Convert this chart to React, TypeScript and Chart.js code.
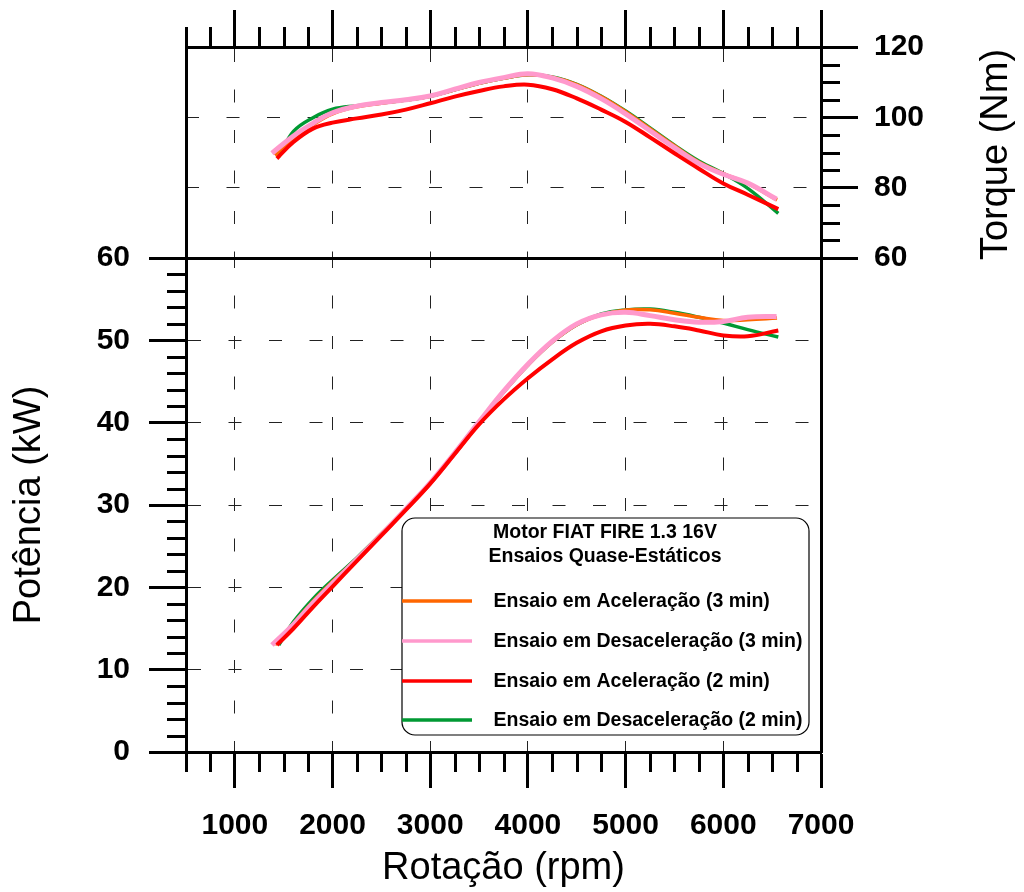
import React, { useEffect, useRef } from 'react';
import { Chart, registerables } from 'chart.js';

Chart.register(...registerables);

const FONT = '"Liberation Sans", Arial, Helvetica, sans-serif';

// ---- axis ticks ----
const X_TICKS = [1000, 2000, 3000, 4000, 5000, 6000, 7000];
const TORQUE_TICKS = [60, 80, 100, 120];
const POWER_TICKS = [0, 10, 20, 30, 40, 50, 60];

// ---- series labels ----
const SERIES_LABELS = [
  'Ensaio em Aceleração (3 min)',
  'Ensaio em Desaceleração (3 min)',
  'Ensaio em Aceleração (2 min)',
  'Ensaio em Desaceleração (2 min)',
];
const LEGEND_TITLE = ['Motor FIAT FIRE 1.3 16V', 'Ensaios Quase-Estáticos'];
const TITLE_X = 'Rotação (rpm)';
const TITLE_POWER = 'Potência (kW)';
const TITLE_TORQUE = 'Torque (Nm)';

// ---- data: engine speed (rpm) per test ----
const RPM_ACC_3 = [1410, 1600, 1800, 2000, 2250, 2500, 2750, 3000, 3250, 3500, 3750, 4000, 4250, 4500, 4750, 5000, 5250, 5500, 5750, 6000, 6250, 6550];
const RPM_DEC_3 = [1380, 1600, 1800, 2000, 2250, 2500, 2750, 3000, 3250, 3500, 3750, 4000, 4250, 4500, 4750, 5000, 5250, 5500, 5750, 6000, 6250, 6546];
const RPM_ACC_2 = [1430, 1600, 1800, 2000, 2250, 2500, 2750, 3000, 3250, 3500, 3750, 4000, 4250, 4500, 4750, 5000, 5250, 5500, 5750, 6000, 6250, 6563];
const RPM_DEC_2 = [1450, 1600, 1800, 2000, 2250, 2500, 2750, 3000, 3250, 3500, 3750, 4000, 4250, 4500, 4750, 5000, 5250, 5500, 5750, 6000, 6250, 6563];

// ---- torque (Nm) ----
const TORQUE_ACC_3 = [89.2, 94.0, 97.9, 101.0, 103.0, 104.0, 104.9, 106.0, 107.8, 109.7, 111.1, 112.1, 111.4, 109.3, 105.9, 101.6, 96.8, 91.9, 87.3, 84.0, 81.2, 76.5];
const TORQUE_DEC_3 = [89.8, 94.7, 98.3, 101.3, 103.2, 104.2, 105.0, 106.1, 108.0, 109.9, 111.3, 112.4, 111.2, 108.8, 105.3, 101.0, 96.2, 91.4, 86.9, 83.8, 81.3, 76.7];
const TORQUE_ACC_2 = [88.3, 93.0, 96.8, 98.5, 99.7, 100.8, 102.2, 104.0, 105.9, 107.5, 108.8, 109.3, 108.0, 105.4, 102.2, 98.7, 94.3, 89.8, 85.4, 81.2, 78.0, 73.9];
const TORQUE_DEC_2 = [88.8, 96.0, 99.9, 102.3, 103.3, 104.1, 104.9, 106.0, 107.8, 109.7, 111.1, 112.1, 111.5, 109.4, 106.0, 101.8, 97.0, 92.1, 87.6, 84.0, 79.8, 72.7];

// ---- power (kW) ----
const POWER_ACC_3 = [13.0, 15.6, 18.3, 20.7, 23.5, 26.5, 29.5, 32.6, 36.2, 40.0, 43.7, 47.0, 49.8, 51.9, 53.1, 53.7, 53.7, 53.3, 52.8, 52.4, 52.5, 52.7];
const POWER_DEC_3 = [13.0, 15.5, 18.1, 20.5, 23.4, 26.4, 29.5, 32.7, 36.3, 40.1, 43.8, 47.1, 49.9, 52.0, 53.1, 53.4, 53.0, 52.5, 52.2, 52.3, 52.8, 52.9];
const POWER_ACC_2 = [13.0, 15.0, 17.6, 20.1, 23.2, 26.3, 29.4, 32.6, 36.2, 39.8, 42.8, 45.4, 47.7, 49.7, 51.1, 51.8, 52.0, 51.7, 51.2, 50.6, 50.5, 51.2];
const POWER_DEC_2 = [13.0, 15.8, 18.6, 20.9, 23.6, 26.5, 29.5, 32.6, 36.2, 40.0, 43.7, 47.0, 49.8, 51.9, 53.2, 53.7, 53.8, 53.4, 52.8, 52.1, 51.3, 50.4];

// ---- styles ----
const COLORS = ['#FF6600', '#FF99CC', '#FF0000', '#009933'];
const WIDTHS = [3.5, 5, 4, 3.5];
const DRAW_ORDER = [2, 1, 0, 3];

const RPMS = [RPM_ACC_3, RPM_DEC_3, RPM_ACC_2, RPM_DEC_2];
const TORQUES = [TORQUE_ACC_3, TORQUE_DEC_3, TORQUE_ACC_2, TORQUE_DEC_2];
const POWERS = [POWER_ACC_3, POWER_DEC_3, POWER_ACC_2, POWER_DEC_2];

const DASH = [13, 27.5];
const GRID_COLOR = '#222';

function makeDatasets(values: number[][]) {
  return values.map((vals, i) => ({
    label: SERIES_LABELS[i],
    data: RPMS[i].map((x, j) => ({ x, y: vals[j] })),
    borderColor: COLORS[i],
    backgroundColor: COLORS[i],
    borderWidth: WIDTHS[i],
    pointRadius: 0,
    tension: 0.4,
    fill: false,
    order: DRAW_ORDER[i],
    xAxisID: 'x',
    yAxisID: 'y',
  }));
}

const isMajor = (v: number, step: number) => Math.abs(v / step - Math.round(v / step)) < 1e-6;

function minorTicksPlugin(specs: { axis: string; step: number; major: number; length: number }[]) {
  return {
    id: 'minorTicks',
    afterDraw(chart: any) {
      const ctx = chart.ctx;
      ctx.save();
      ctx.strokeStyle = '#000';
      ctx.lineWidth = 3;
      for (const s of specs) {
        const scale = chart.scales[s.axis];
        const start = Math.ceil(scale.min / s.step) * s.step;
        for (let v = start; v <= scale.max + 1e-9; v += s.step) {
          if (isMajor(v, s.major)) continue;
          const p = Math.round(scale.getPixelForValue(v)) + 0.5;
          ctx.beginPath();
          if (scale.position === 'bottom') {
            ctx.moveTo(p, scale.top);
            ctx.lineTo(p, scale.top + s.length);
          } else if (scale.position === 'top') {
            ctx.moveTo(p, scale.bottom);
            ctx.lineTo(p, scale.bottom - s.length);
          } else if (scale.position === 'left') {
            ctx.moveTo(scale.right, p);
            ctx.lineTo(scale.right - s.length, p);
          } else {
            ctx.moveTo(scale.left, p);
            ctx.lineTo(scale.left + s.length, p);
          }
          ctx.stroke();
        }
      }
      ctx.restore();
    },
  };
}

const torqueTitlePlugin = {
  id: 'torqueTitle',
  afterDraw(chart: any) {
    const s = chart.scales.y;
    const ctx = chart.ctx;
    ctx.save();
    ctx.translate(s.right - 27, (s.top + s.bottom) / 2 + 2);
    ctx.rotate(-Math.PI / 2);
    ctx.font = `38px ${FONT}`;
    ctx.fillStyle = '#000';
    ctx.textAlign = 'center';
    ctx.textBaseline = 'middle';
    ctx.fillText(TITLE_TORQUE, 0, 0);
    ctx.restore();
  },
};

const boxLegendPlugin = {
  id: 'boxLegend',
  afterDraw(chart: any) {
    const ctx = chart.ctx;
    const x0 = 402, y0 = 518, x1 = 809, y1 = 735, r = 13;
    ctx.save();
    ctx.beginPath();
    ctx.moveTo(x0 + r, y0);
    ctx.arcTo(x1, y0, x1, y1, r);
    ctx.arcTo(x1, y1, x0, y1, r);
    ctx.arcTo(x0, y1, x0, y0, r);
    ctx.arcTo(x0, y0, x1, y0, r);
    ctx.closePath();
    ctx.fillStyle = '#fff';
    ctx.fill();
    ctx.lineWidth = 1.2;
    ctx.strokeStyle = '#000';
    ctx.stroke();
    ctx.fillStyle = '#000';
    ctx.font = `bold 19.5px ${FONT}`;
    ctx.textAlign = 'center';
    ctx.textBaseline = 'middle';
    ctx.fillText(LEGEND_TITLE[0], 605, 533);
    ctx.fillText(LEGEND_TITLE[1], 605, 557);
    const rows = [601, 641, 681, 720];
    const metas = chart.data.datasets;
    SERIES_LABELS.forEach((lab, i) => {
      ctx.strokeStyle = metas[i].borderColor;
      ctx.lineWidth = 3.5;
      ctx.beginPath();
      ctx.moveTo(402, rows[i]);
      ctx.lineTo(472, rows[i]);
      ctx.stroke();
      ctx.textAlign = 'left';
      ctx.fillText(lab, 493.5, rows[i] + 1);
    });
    ctx.restore();
  },
};

const tickFont = { family: FONT, size: 30, weight: 'bold' as const };
const titleFont = { family: FONT, size: 38, weight: 'normal' as const };
const tickVal = (c: any) => (c && c.tick ? c.tick.value : undefined);

export default function App() {
  const topRef = useRef<HTMLCanvasElement>(null);
  const botRef = useRef<HTMLCanvasElement>(null);

  useEffect(() => {
    Chart.defaults.font.family = FONT;

    const bottom = new Chart(botRef.current as HTMLCanvasElement, {
      type: 'line',
      data: { datasets: makeDatasets(POWERS) as any },
      options: {
        animation: false,
        responsive: false,
        events: [],
        layout: { padding: { left: 0, top: 258, right: 0, bottom: 0 } },
        plugins: { legend: { display: false }, tooltip: { enabled: false } },
        scales: {
          x: {
            type: 'linear',
            position: 'bottom',
            min: 500,
            max: 7000,
            afterBuildTicks: (s: any) => { s.ticks = X_TICKS.map((value) => ({ value })); },
            ticks: { callback: (v: any) => String(v), font: tickFont, color: '#000', padding: 20, maxRotation: 0, autoSkip: false },
            grid: {
              color: (c: any) => (tickVal(c) === 7000 ? 'rgba(0,0,0,0)' : GRID_COLOR),
              lineWidth: 1,
              tickLength: 36,
              tickWidth: 3,
              tickColor: '#000',
            },
            border: { display: true, color: '#000', width: 3, dash: DASH, dashOffset: 3 },
            title: { display: true, text: TITLE_X, font: titleFont, color: '#000', padding: { top: 0, bottom: 1 } },
            afterFit: (s: any) => { s.height = 140; },
          } as any,
          y: {
            type: 'linear',
            position: 'left',
            min: 0,
            max: 60,
            afterBuildTicks: (s: any) => { s.ticks = POWER_TICKS.map((value) => ({ value })); },
            ticks: { callback: (v: any) => String(v), font: tickFont, color: '#000', padding: 19 },
            grid: {
              color: (c: any) => { const v = tickVal(c); return v === 0 || v === 60 ? '#000' : GRID_COLOR; },
              lineWidth: (c: any) => { const v = tickVal(c); return v === 0 || v === 60 ? 3 : 1; },
              tickLength: 37,
              tickWidth: 3,
              tickColor: '#000',
            },
            border: {
              display: true,
              color: '#000',
              width: 3,
              dash: (c: any) => { const v = tickVal(c); return v === 0 || v === 60 || v === undefined ? [] : DASH; },
            },
            title: { display: true, text: TITLE_POWER, font: titleFont, color: '#000', padding: { top: 7, bottom: 0 } },
            afterFit: (s: any) => { s.width = 186; },
          } as any,
          yr: {
            type: 'linear',
            position: 'right',
            ticks: { display: false },
            grid: { display: false },
            border: { display: true, color: '#000', width: 3 },
            afterFit: (s: any) => { s.width = 203; },
          } as any,
        },
      },
      plugins: [
        minorTicksPlugin([
          { axis: 'x', step: 250, major: 1000, length: 20 },
          { axis: 'y', step: 2, major: 10, length: 19 },
        ]),
        boxLegendPlugin,
      ],
    });

    const top = new Chart(topRef.current as HTMLCanvasElement, {
      type: 'line',
      data: { datasets: makeDatasets(TORQUES) as any },
      options: {
        animation: false,
        responsive: false,
        events: [],
        layout: { padding: { left: 186, top: 0, right: 0, bottom: 634 } },
        plugins: { legend: { display: false }, tooltip: { enabled: false } },
        scales: {
          x: {
            type: 'linear',
            position: 'top',
            min: 500,
            max: 7000,
            afterBuildTicks: (s: any) => { s.ticks = X_TICKS.map((value) => ({ value })); },
            ticks: { display: false },
            grid: {
              color: (c: any) => (tickVal(c) === 7000 ? 'rgba(0,0,0,0)' : GRID_COLOR),
              lineWidth: 1,
              tickLength: 37,
              tickWidth: 3,
              tickColor: '#000',
            },
            border: { display: true, color: '#000', width: 3, dash: DASH, dashOffset: 0 },
            afterFit: (s: any) => { s.height = 47; },
          } as any,
          y: {
            type: 'linear',
            position: 'right',
            min: 60,
            max: 120,
            afterBuildTicks: (s: any) => { s.ticks = TORQUE_TICKS.map((value) => ({ value })); },
            ticks: { callback: (v: any) => String(v), font: tickFont, color: '#000', padding: 16 },
            grid: {
              color: (c: any) => { const v = tickVal(c); return v === 60 || v === 120 ? '#000' : GRID_COLOR; },
              lineWidth: (c: any) => { const v = tickVal(c); return v === 60 || v === 120 ? 3 : 1; },
              tickLength: 37,
              tickWidth: 3,
              tickColor: '#000',
            },
            border: {
              display: true,
              color: '#000',
              width: 3,
              dash: (c: any) => { const v = tickVal(c); return v === 60 || v === 120 || v === undefined ? [] : DASH; },
            },
            afterFit: (s: any) => { s.width = 203; },
          } as any,
          yl: {
            type: 'linear',
            position: 'left',
            ticks: { display: false },
            grid: { display: false },
            border: { display: true, color: '#000', width: 3 },
            afterFit: (s: any) => { s.width = 0; },
          } as any,
        },
      },
      plugins: [
        minorTicksPlugin([
          { axis: 'x', step: 250, major: 1000, length: 20 },
          { axis: 'y', step: 5, major: 20, length: 19 },
        ]),
        torqueTitlePlugin,
      ],
    });

    return () => {
      top.destroy();
      bottom.destroy();
    };
  }, []);

  return (
    <div style={{ position: 'fixed', left: 0, top: 0, width: 1024, height: 892, background: '#fff' }}>
      <canvas ref={botRef} width={1024} height={892} style={{ position: 'absolute', left: 0, top: 0 }} />
      <canvas ref={topRef} width={1024} height={892} style={{ position: 'absolute', left: 0, top: 0 }} />
    </div>
  );
}
